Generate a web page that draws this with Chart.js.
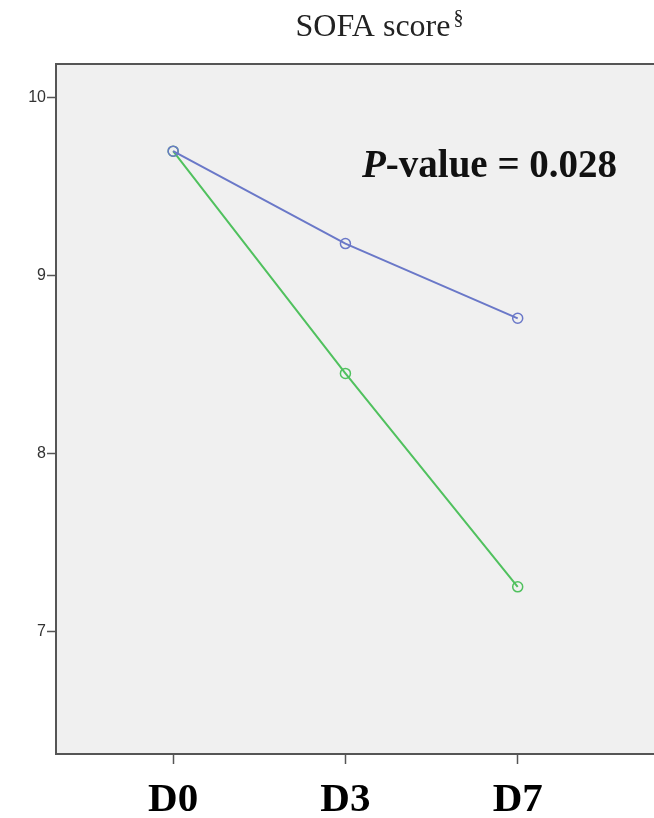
<!DOCTYPE html>
<html>
<head>
<meta charset="utf-8">
<script src="https://cdn.jsdelivr.net/npm/chart.js@4/dist/chart.umd.min.js"></script>
<style>
  html, body { margin: 0; padding: 0; background: #fff; overflow: hidden; }
  #wrap { width: 660px; height: 818px; }
</style>
</head>
<body>
<div id="wrap"><canvas id="chart" width="660" height="818"></canvas></div>
<script>
// data
const days = ['D0', 'D3', 'D7'];
const groupBlue = [9.70, 9.18, 8.76];
const groupGreen = [9.70, 8.45, 7.25];
const yTicks = [7, 8, 9, 10];
const titleText = 'SOFA score';
const titleMark = '§';
const pText = '-value = 0.028';

const toPoints = (vals) => vals.map((v, i) => ({ x: i, y: v }));

// grey plot panel + frame, title and p-value text
const panelPlugin = {
  id: 'panel',
  beforeDraw(chart) {
    const { ctx, chartArea: a } = chart;
    ctx.save();
    ctx.fillStyle = '#f0f0f0';
    ctx.fillRect(a.left, a.top, a.right - a.left, a.bottom - a.top);
    ctx.strokeStyle = '#555';
    ctx.lineWidth = 2;
    ctx.strokeRect(a.left, a.top, a.right - a.left, a.bottom - a.top);
    ctx.restore();
  },
  afterDraw(chart) {
    const { ctx } = chart;
    ctx.save();
    ctx.fillStyle = '#222';
    ctx.textBaseline = 'alphabetic';
    // title
    ctx.font = '32px "Liberation Serif", "Times New Roman", serif';
    const tw = ctx.measureText(titleText).width;
    const tx = 373 - tw / 2;
    ctx.fillText(titleText, tx, 36);
    ctx.font = '20px "Liberation Serif", "Times New Roman", serif';
    ctx.fillText(titleMark, tx + tw + 3, 24);
    // p-value
    ctx.fillStyle = '#111';
    ctx.font = 'italic bold 39px "Liberation Serif", "Times New Roman", serif';
    ctx.fillText('P', 362, 177);
    const pw = ctx.measureText('P').width;
    ctx.font = 'bold 39px "Liberation Serif", "Times New Roman", serif';
    ctx.fillText(pText, 362 + pw, 177);
    ctx.restore();
  }
};

new Chart(document.getElementById('chart'), {
  type: 'line',
  data: {
    datasets: [
      {
        label: 'Group 1',
        data: toPoints(groupBlue),
        borderColor: '#6a78c8',
        backgroundColor: 'rgba(0,0,0,0)',
        borderWidth: 2,
        pointRadius: 5,
        pointBorderWidth: 1.5,
        pointBorderColor: '#6a78c8',
        pointBackgroundColor: 'rgba(0,0,0,0)',
        tension: 0
      },
      {
        label: 'Group 2',
        data: toPoints(groupGreen),
        borderColor: '#50c15e',
        backgroundColor: 'rgba(0,0,0,0)',
        borderWidth: 2,
        pointRadius: 5,
        pointBorderWidth: 1.5,
        pointBorderColor: '#50c15e',
        pointBackgroundColor: 'rgba(0,0,0,0)',
        tension: 0
      }
    ]
  },
  options: {
    responsive: false,
    animation: false,
    layout: { autoPadding: false, padding: { top: 64, right: 0, left: 0, bottom: 0 } },
    plugins: {
      legend: { display: false },
      title: { display: false },
      tooltip: { enabled: false }
    },
    scales: {
      x: {
        type: 'linear',
        min: -0.68,
        max: 2.826,
        afterBuildTicks(scale) {
          scale.ticks = days.map((d, i) => ({ value: i }));
        },
        afterFit(scale) { scale.height = 64; },
        ticks: {
          callback: (v) => days[v],
          color: '#000',
          font: { family: '"Liberation Serif", "Times New Roman", serif', size: 41, weight: 'bold' },
          padding: 12,
          maxRotation: 0
        },
        grid: { drawOnChartArea: false, tickLength: 10, tickColor: '#555', tickWidth: 1.5 },
        border: { display: true, color: '#555', width: 2 }
      },
      y: {
        min: 6.31,
        max: 10.19,
        afterBuildTicks(scale) {
          scale.ticks = yTicks.map((v) => ({ value: v }));
        },
        afterFit(scale) { scale.width = 56; },
        ticks: {
          color: '#333',
          font: { family: '"Liberation Sans", Arial, sans-serif', size: 16 },
          padding: 1
        },
        grid: { drawOnChartArea: false, tickLength: 9, tickColor: '#555', tickWidth: 1.5 },
        border: { display: true, color: '#555', width: 2 }
      }
    }
  },
  plugins: [panelPlugin]
});
</script>
</body>
</html>
